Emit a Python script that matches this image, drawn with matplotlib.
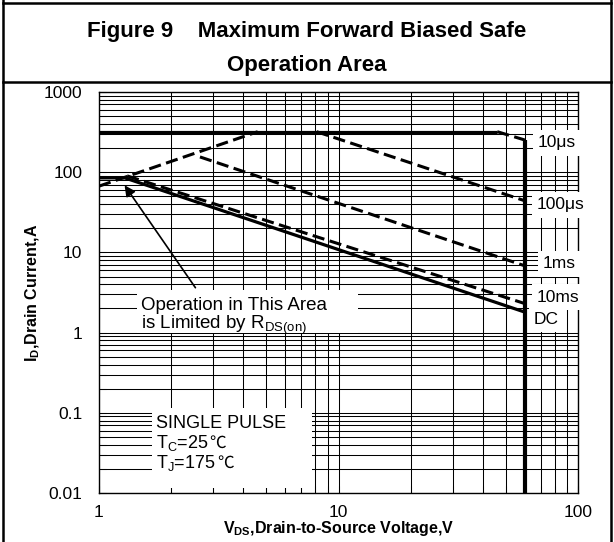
import matplotlib
matplotlib.use("Agg")
import matplotlib.pyplot as plt
from matplotlib.lines import Line2D
from matplotlib.patches import Rectangle

plt.rcParams['font.family'] = ['Liberation Sans', 'DejaVu Sans']
plt.rcParams['mathtext.default'] = 'regular'

# ------------------------
# SOA curve data (V, A)
# ------------------------
v_rds = [1.0, 4.6]          # R_DS(on) limit
i_rds = [67, 320]

v_10us_flat = [1.0, 46]     # package / 10us limit (solid)
i_10us_flat = [320, 320]
v_10us = [46, 60]
i_10us = [320, 252]

v_100us = [8.1, 60]
i_100us = [320, 44]

v_1ms = [2.64, 60]
i_1ms = [155, 6.8]

v_10ms = [1.31, 60]
i_10ms = [90, 2.3]

v_dc = [1.0, 1.28, 60]
i_dc = [85, 85, 1.8]

v_bv = [60, 60]             # breakdown limit
i_bv = [252, 0.01]

curve_labels = ['10μs', '100μs', '1ms', '10ms', 'DC']
x_ticks = [1, 10, 100]
x_ticklabels = ['1', '10', '100']
y_ticks = [0.01, 0.1, 1, 10, 100, 1000]
y_ticklabels = ['0.01', '0.1', '1', '10', '100', '1000']

W, H = 614, 542
fig = plt.figure(figsize=(W / 100, H / 100), dpi=100)

# frame of the figure + title box
def fx(px):
    return px / W

def fy(py):
    return 1 - py / H

for (x0, y0, x1, y1) in [(3, 0, 3, H), (611, 0, 611, H), (3, 3, 611, 3), (3, 82, 611, 82)]:
    fig.add_artist(Line2D([fx(x0), fx(x1)], [fy(y0), fy(y1)], color='black', lw=1.8))

fig.text(fx(307), fy(31), 'Figure 9    Maximum Forward Biased Safe', ha='center', va='center',
         fontsize=16, fontweight='bold')
fig.text(fx(307), fy(66), 'Operation Area', ha='center', va='center',
         fontsize=16, fontweight='bold')

ax = fig.add_axes([fx(99), fy(493), (578 - 99) / W, (493 - 92) / H])
ax.set_xscale('log')
ax.set_yscale('log')
ax.set_xlim(1, 100)
ax.set_ylim(0.01, 1000)
ax.set_axisbelow(True)
ax.grid(which='both', color='black', lw=0.75)
ax.set_xticks(x_ticks)
ax.set_xticklabels(x_ticklabels)
ax.set_yticks(y_ticks)
ax.set_yticklabels(y_ticklabels)
ax.tick_params(which='both', direction='in', length=5, width=0.75, labelsize=12.5)
ax.tick_params(axis='y', pad=12)
ax.tick_params(axis='x', pad=8.5)
for s in ax.spines.values():
    s.set_linewidth(1.0)

# curves
solid = dict(color='black', lw=2.3, solid_capstyle='butt')
dashed = dict(color='black', lw=2.2, ls=(0, (4, 1.8)))
ax.plot(v_rds, i_rds, **dashed)
ax.plot(v_10us_flat, i_10us_flat, **solid)
ax.plot(v_10us, i_10us, **dashed)
ax.plot(v_100us, i_100us, **dashed)
ax.plot(v_1ms, i_1ms, **dashed)
ax.plot(v_10ms, i_10ms, **dashed)
ax.plot(v_dc, i_dc, **solid)
ax.plot(v_bv, i_bv, color='black', lw=3.0, solid_capstyle='butt')

# white boxes behind notes
def axf(px, py):
    return (px - 99) / 479, (493 - py) / 401

bx0, by1 = axf(137, 290)
bx1, by0 = axf(358, 333)
ax.add_patch(Rectangle((bx0, by0), bx1 - bx0, by1 - by0, transform=ax.transAxes,
                       fc='white', ec='none', zorder=1))
sx0, sy1 = axf(152, 408)
sx1, sy0 = axf(312, 488)
ax.add_patch(Rectangle((sx0, sy0), sx1 - sx0, sy1 - sy0, transform=ax.transAxes,
                       fc='white', ec='none', zorder=1))

note_fs = 13.5
tx, ty = axf(141, 305)
ax.text(tx, ty, 'Operation in This Area', transform=ax.transAxes, ha='left', va='center', fontsize=note_fs)
tx, ty = axf(141, 325)
ax.text(tx, ty, 'is Limited by R$_{DS(on)}$', transform=ax.transAxes, ha='left', va='center', fontsize=note_fs)

a0 = axf(197, 290)
a1 = axf(123, 183)
ax.annotate('', xy=a1, xytext=a0, xycoords='axes fraction', textcoords='axes fraction',
            arrowprops=dict(arrowstyle='-|>', color='black', lw=1.2, mutation_scale=16))

pulse_fs = 13
tx, ty = axf(156, 428)
ax.text(tx, ty, 'SINGLE PULSE', transform=ax.transAxes, ha='left', va='baseline', fontsize=pulse_fs)
temp_texts = []
for txt, py in [('T$_C$=25', 448), ('T$_J$=175', 468)]:
    tx, ty = axf(156, py)
    t = ax.text(tx, ty, txt, transform=ax.transAxes, ha='left', va='baseline', fontsize=pulse_fs)
    temp_texts.append((t, ty))

# degree-Celsius sign right after each temperature, on the same baseline
fig.canvas.draw()
renderer = fig.canvas.get_renderer()
for t, ty in temp_texts:
    bb = t.get_window_extent(renderer)
    x_ax = ax.transAxes.inverted().transform((bb.x1 + 1, 0))[0]
    ax.text(x_ax, ty, '℃', transform=ax.transAxes, ha='left', va='baseline', fontsize=pulse_fs - 1,
            family=['Noto Sans CJK SC', 'DejaVu Sans'])

# curve labels to the right of the 60V line
label_pos = [(538, 143), (537, 205), (543, 264), (537, 297), (534, 319)]
for txt, (px, py) in zip(curve_labels, label_pos):
    tx, ty = axf(px, py)
    ax.text(tx, ty, txt, transform=ax.transAxes, ha='left', va='center', fontsize=12.5,
            clip_on=False, zorder=5,
            bbox=dict(boxstyle='square,pad=0.3', fc='white', ec='none'))

ax.set_xlabel('V$_{DS}$,Drain-to-Source Voltage,V', fontsize=11.5, fontweight='bold', va='center')
ax.xaxis.set_label_coords(0.5, (493 - 529) / 401)
ax.set_ylabel('I$_D$,Drain Current,A', fontsize=11.5, fontweight='bold', va='center')
ax.yaxis.set_label_coords((33 - 99) / 479, 0.5)

fig.savefig('out.png', dpi=100, facecolor='white')
